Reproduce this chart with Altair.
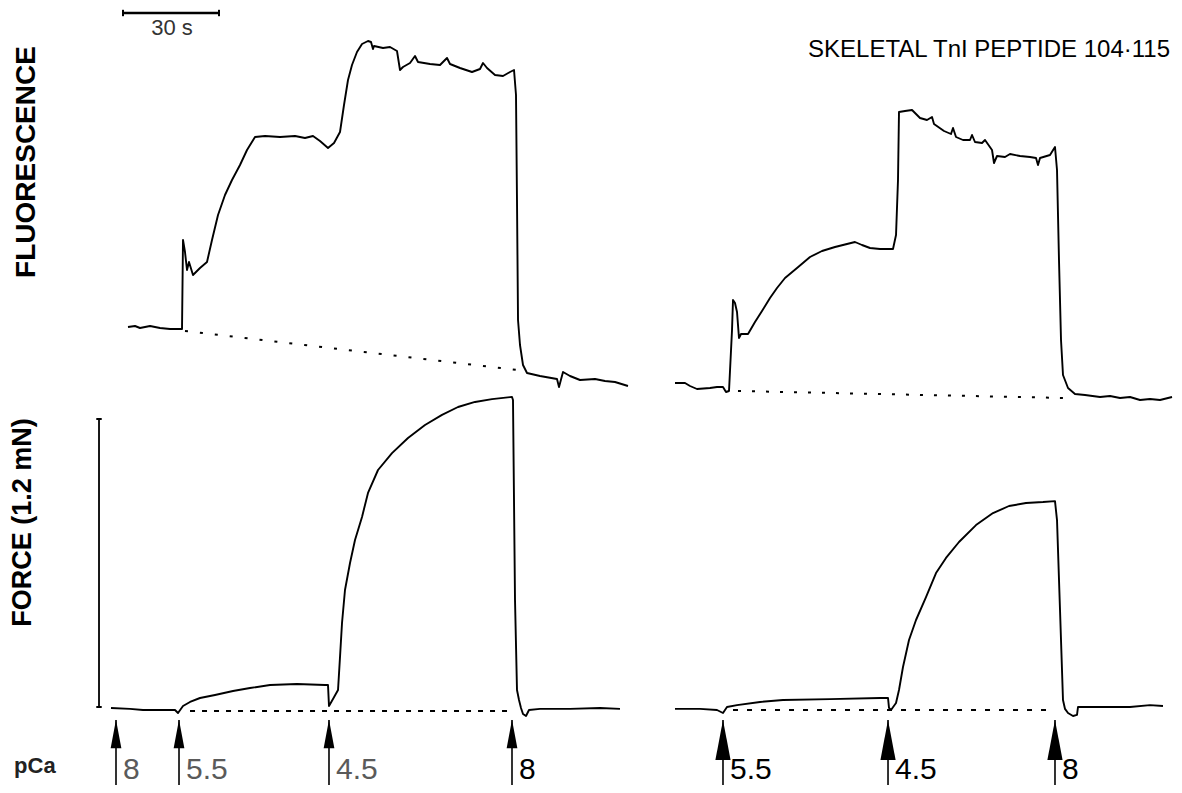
import altair as alt
import pandas as pd

FONT = "Liberation Sans"
NARROW = "Liberation Sans Narrow, Liberation Sans"

# ---------------- data (time in s, fluorescence in arb. units, force in mN) ----------
# Left recording – fluorescence
LF_T = [37.5, 39.69, 41.25, 44.38, 47.5, 50.63, 54.38, 54.69, 55.31, 55.94, 56.56, 57.81, 60.0, 62.19,
        63.75, 65.63, 67.81, 70.0, 72.5, 74.69, 77.19, 80.31, 85.0, 89.69, 92.81, 95.31, 97.5, 100.0,
        101.88, 103.75, 105.0, 106.25, 107.5, 109.06, 110.63, 112.5, 113.44, 114.06, 114.38, 117.19,
        119.38, 121.56, 122.5, 123.44, 125.63, 127.19, 128.13, 131.88, 135.0, 137.19, 138.13, 141.25,
        145.0, 147.5, 148.44, 149.69, 152.19, 154.69, 156.88, 158.13, 158.75, 159.06, 159.38, 160.0,
        160.94, 162.19, 166.25, 171.56, 172.19, 173.44, 175.63, 178.75, 183.44, 186.56, 189.69, 193.75]
LF_F = [20.25, 20.5, 20.0, 20.5, 20.0, 19.75, 19.75, 42.0, 39.0, 34.5, 36.5, 33.25, 35.0, 36.5,
        42.0, 48.25, 53.25, 57.0, 60.75, 64.5, 67.75, 68.0, 67.75, 68.0, 67.5, 68.0, 66.75, 65.0,
        66.25, 69.0, 75.75, 82.0, 85.75, 89.0, 91.0, 91.75, 91.5, 89.75, 90.5, 90.0,
        90.25, 89.25, 84.5, 85.25, 86.25, 88.0, 86.5, 86.0, 85.75, 87.5, 86.0, 85.0,
        84.0, 84.75, 86.25, 85.0, 83.25, 83.0, 84.0, 84.5, 78.25, 52.0, 22.0, 15.75,
        10.75, 8.75, 8.0, 7.25, 5.25, 9.0, 8.0, 7.0, 7.25, 6.75, 6.5, 5.5]
LF_BASE_T = [55.31, 159.38]
LF_BASE_F = [19.25, 9.5]

# Left recording – force
LP_T = [32.19, 38.13, 42.19, 47.5, 52.19, 53.13, 54.69, 56.88, 60.0, 64.69, 70.31, 75.63, 81.88,
        90.31, 99.06, 100.0, 100.31, 101.56, 103.13, 103.75, 104.38, 105.31, 106.88, 108.44,
        110.63, 112.5, 115.63, 120.0, 125.0, 130.31, 135.63, 140.63, 145.94, 151.25, 157.5,
        157.81, 158.44, 159.06, 159.69, 160.31, 160.94, 161.88, 162.81, 166.25, 175.63, 185.0, 191.25]
LP_F = [-0.004, -0.008, -0.0125, -0.0125, -0.0125, -0.025, 0.004, 0.021, 0.0375, 0.05, 0.0667, 0.079,
        0.0917, 0.0958, 0.0917, 0.0917, 0.004, 0.033, 0.071, 0.208, 0.35, 0.4875, 0.6, 0.696,
        0.792, 0.892, 0.9875, 1.058, 1.121, 1.175, 1.217, 1.25, 1.271, 1.283, 1.292,
        1.279, 0.446, 0.071, 0.029, -0.004, -0.029, -0.0375, -0.0125, -0.008, -0.008, -0.004, -0.008]
LP_BASE_T = [56.88, 156.88]
LP_BASE_F = [-0.0167, -0.0167]

# Right recording – fluorescence
RF_T = [7.81, 10.94, 12.5, 14.69, 18.75, 20.94, 22.81, 23.75, 24.69, 25.63, 25.94, 26.56, 27.19,
        27.81, 28.44, 30.63, 32.81, 35.0, 37.5, 39.69, 42.19, 45.94, 50.0, 53.75, 57.81, 61.56,
        64.06, 66.25, 68.75, 71.88, 75.94, 76.88, 77.5, 77.81, 79.69, 81.88, 83.13, 84.38, 86.56,
        88.13, 88.75, 91.88, 94.06, 94.69, 95.63, 97.81, 100.0, 100.63, 101.56, 103.75, 104.69,
        106.88, 107.5, 108.44, 110.94, 112.5, 115.63, 118.75, 120.63, 121.25, 121.88, 125.0, 126.56,
        127.19, 127.81, 128.44, 129.06, 130.63, 132.81, 135.94, 140.63, 143.75, 146.88, 150.0,
        153.13, 156.25, 159.38, 163.13]
RF_F = [6.25, 6.25, 5.5, 4.75, 5.0, 5.25, 5.25, 4.0, 4.25, 19.5, 27.0, 26.25, 24.0,
        17.5, 18.5, 18.5, 21.5, 24.25, 27.5, 30.0, 32.5, 35.0, 37.75, 39.25, 40.25, 41.0,
        41.5, 40.75, 40.0, 39.75, 39.75, 43.25, 57.0, 74.0, 74.25, 74.5, 73.5, 72.5, 72.0,
        72.75, 71.0, 69.25, 68.5, 70.0, 67.75, 67.0, 67.0, 68.25, 66.5, 66.25, 67.0,
        64.5, 61.25, 63.0, 62.75, 63.5, 63.0, 62.75, 62.5, 60.75, 62.5, 63.25, 65.25,
        59.5, 37.0, 17.0, 8.25, 5.0, 3.5, 3.25, 2.75, 3.0, 2.5, 2.75,
        2.0, 2.25, 2.0, 2.75]
RF_BASE_T = [27.5, 129.69]
RF_BASE_F = [4.25, 2.5]

# Right recording – force
RP_T = [7.81, 15.63, 20.94, 22.81, 24.06, 27.19, 34.38, 41.56, 56.25, 71.88, 74.38, 74.69, 75.31,
        76.88, 77.81, 79.06, 80.94, 83.13, 86.25, 89.38, 92.5, 96.56, 101.88, 107.19, 112.19,
        117.5, 122.81, 126.56, 127.19, 128.13, 129.06, 129.69, 130.63, 132.19, 133.44, 133.75,
        140.63, 150.0, 156.25, 160.31]
RP_F = [-0.008, -0.008, -0.0125, -0.025, 0.0, 0.008, 0.021, 0.029, 0.033, 0.0375, 0.0375, -0.004, -0.0125,
        0.0167, 0.0708, 0.1667, 0.279, 0.3625, 0.458, 0.558, 0.621, 0.6875, 0.758, 0.808, 0.8375,
        0.85, 0.854, 0.858, 0.779, 0.404, 0.029, -0.008, -0.025, -0.0375, -0.033, 0.0,
        0.0, 0.0, 0.008, 0.004]
RP_BASE_T = [25.94, 125.94]
RP_BASE_F = [-0.0125, -0.0125]

# Solution changes (pCa) marked by arrows
L_ARROW_T = [33.75, 53.44, 100.31, 157.5]
L_ARROW_LABEL = ["8", "5.5", "4.5", "8"]
R_ARROW_T = [22.81, 74.38, 126.56]
R_ARROW_LABEL = ["5.5", "4.5", "8"]

# Calibration bars
TIME_BAR_T = [35.94, 65.94]      # 30 s
TIME_BAR_F = 98.75
FORCE_BAR_T = 28.44
FORCE_BAR_F = [0.0, 1.2]         # 1.2 mN

TITLE = "SKELETAL TnI PEPTIDE 104·115"

# ---------------- layout ----------------
LEFT_W, RIGHT_W = 642, 524
TOP_H, BOT_H = 396, 381
LX = [0, 200.625]
RX = [0, 163.75]
TOP_Y = [1.0, 100]
BOT_Y = [-0.325, 1.2625]

ARROW_TIP, ARROW_BOTTOM = -0.054, -0.325
LABEL_Y = -0.302


def X(field, dom):
    return alt.X(field, type="quantitative", scale=alt.Scale(domain=dom, nice=False, zero=False), axis=None)


def Y(field, dom):
    return alt.Y(field, type="quantitative", scale=alt.Scale(domain=dom, nice=False, zero=False), axis=None)


def trace(ts, vs, xd, yd, width=1.9):
    df = pd.DataFrame({"t": ts, "v": vs, "i": range(len(ts))})
    return alt.Chart(df).mark_line(color="black", strokeWidth=width, strokeJoin="round").encode(
        x=X("t", xd), y=Y("v", yd), order=alt.Order("i:Q"))


def baseline(ts, vs, xd, yd, dash):
    df = pd.DataFrame({"t": ts, "v": vs})
    return alt.Chart(df).mark_line(color="black", strokeWidth=2, strokeDash=dash).encode(
        x=X("t", xd), y=Y("v", yd))


def text(t, v, s, xd, yd, color="black", font=FONT, **kw):
    df = pd.DataFrame({"t": [t], "v": [v], "s": [s]})
    return alt.Chart(df).mark_text(font=font, color=color, **kw).encode(
        x=X("t", xd), y=Y("v", yd), text="s:N")


def arrows(ts, labels, xd, yd, head_center, head_size, faded_n, font):
    df = pd.DataFrame({"t": ts, "lab": labels, "i": range(len(ts)),
                       "tip": ARROW_TIP, "bot": ARROW_BOTTOM, "hc": head_center, "ly": LABEL_Y})
    base = alt.Chart(df)
    shaft = base.mark_rule(color="black", strokeWidth=1.6).encode(
        x=X("t", xd), y=Y("tip", yd), y2="bot:Q")
    head = base.mark_point(shape="M0,-1L0.38,1L-0.38,1Z", filled=True, opacity=1,
                           color="black", strokeWidth=0, size=head_size).encode(
        x=X("t", xd), y=Y("hc", yd))
    lab = base.mark_text(font=font, fontSize=30, align="left", baseline="alphabetic", dx=7).encode(
        x=X("t", xd), y=Y("ly", yd), text="lab:N",
        color=alt.condition(f"datum.i < {faded_n}", alt.value("#5a5a5a"), alt.value("black")))
    return shaft + head + lab


# ---------------- left column ----------------
tb = pd.DataFrame({"t": [TIME_BAR_T[0]], "t2": [TIME_BAR_T[1]], "v": [TIME_BAR_F]})
time_bar = alt.Chart(tb).mark_rule(color="black", strokeWidth=2.5).encode(
    x=X("t", LX), x2="t2:Q", y=Y("v", TOP_Y))
tb_ends = pd.DataFrame({"t": TIME_BAR_T, "v": [TIME_BAR_F + 0.8] * 2, "v2": [TIME_BAR_F - 0.8] * 2})
time_bar_ends = alt.Chart(tb_ends).mark_rule(color="black", strokeWidth=2).encode(
    x=X("t", LX), y=Y("v", TOP_Y), y2="v2:Q")

left_top = alt.layer(
    trace(LF_T, LF_F, LX, TOP_Y),
    baseline(LF_BASE_T, LF_BASE_F, LX, TOP_Y, [3, 12]),
    time_bar, time_bar_ends,
    text(51.25, 95.0, "30 s", LX, TOP_Y, color="#333333", fontSize=22, align="center", baseline="middle"),
    text(5.94, 61.5, "FLUORESCENCE", LX, TOP_Y, fontSize=28, fontWeight="bold", angle=270,
         align="center", baseline="middle"),
).properties(width=LEFT_W, height=TOP_H)

fb = pd.DataFrame({"t": [FORCE_BAR_T], "v": [FORCE_BAR_F[0]], "v2": [FORCE_BAR_F[1]]})
force_bar = alt.Chart(fb).mark_rule(color="black", strokeWidth=1.8).encode(
    x=X("t", LX), y=Y("v", BOT_Y), y2="v2:Q")
fb_ends = pd.DataFrame({"t": [FORCE_BAR_T - 0.85] * 2, "t2": [FORCE_BAR_T + 0.85] * 2, "v": FORCE_BAR_F})
force_bar_ends = alt.Chart(fb_ends).mark_rule(color="black", strokeWidth=2).encode(
    x=X("t", LX), x2="t2:Q", y=Y("v", BOT_Y))

left_bottom = alt.layer(
    trace(LP_T, LP_F, LX, BOT_Y),
    baseline(LP_BASE_T, LP_BASE_F, LX, BOT_Y, [5, 7]),
    force_bar, force_bar_ends,
    arrows(L_ARROW_T, L_ARROW_LABEL, LX, BOT_Y, -0.1125, 800, 3, FONT),
    text(4.69, 0.769, "FORCE  (1.2 mN)", LX, BOT_Y, fontSize=27, fontWeight="bold", angle=270,
         align="center", baseline="middle"),
    text(1.9, -0.246, "pCa", LX, BOT_Y, color="#222222", fontSize=22, fontWeight="bold",
         align="left", baseline="middle"),
).properties(width=LEFT_W, height=BOT_H)

# ---------------- right column ----------------
right_top = alt.layer(
    trace(RF_T, RF_F, RX, TOP_Y),
    baseline(RF_BASE_T, RF_BASE_F, RX, TOP_Y, [3, 11]),
    text(162.5, 89.5, TITLE, RX, TOP_Y, fontSize=24, align="right", baseline="middle"),
).properties(width=RIGHT_W, height=TOP_H)

right_bottom = alt.layer(
    trace(RP_T, RP_F, RX, BOT_Y),
    baseline(RP_BASE_T, RP_BASE_F, RX, BOT_Y, [5, 9]),
    arrows(R_ARROW_T, R_ARROW_LABEL, RX, BOT_Y, -0.1375, 1600, 0, NARROW),
).properties(width=RIGHT_W, height=BOT_H)

chart = alt.concat(left_top, right_top, left_bottom, right_bottom,
                   columns=2, spacing=0, bounds="flush").resolve_scale(
    x="independent", y="independent"
).properties(padding=0, background="white").configure_view(stroke=None)

chart.save("out.html", embed_options={"renderer": "svg", "actions": False})
